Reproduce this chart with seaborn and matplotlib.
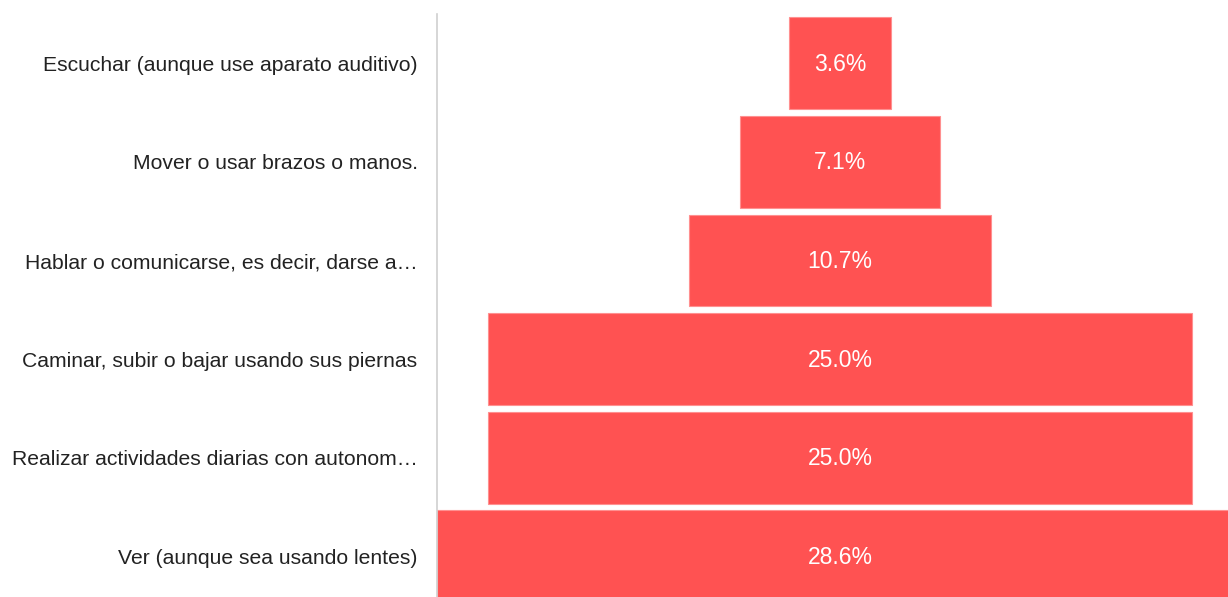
import matplotlib
matplotlib.use("Agg")
import matplotlib.pyplot as plt
import seaborn as sns
import pandas as pd

categories = [
    "Escuchar (aunque use aparato auditivo)",
    "Mover o usar brazos o manos.",
    "Hablar o comunicarse, es decir, darse a\u2026",
    "Caminar, subir o bajar usando sus piernas",
    "Realizar actividades diarias con autonom\u2026",
    "Ver (aunque sea usando lentes)",
]
values = [3.6, 7.1, 10.7, 25.0, 25.0, 28.6]

df = pd.DataFrame({"categoria": categories, "porcentaje": values})

sns.set_theme(style="white")
plt.rcParams["font.family"] = ["Liberation Sans", "DejaVu Sans"]

fig = plt.figure(figsize=(12.28, 5.97), dpi=100)
# axes: left edge at the grey axis line; the widest bar runs past the right edge
ax = fig.add_axes([437 / 1228, -8.6 / 597, 806 / 1228, (597 - 14 + 8.6) / 597])

sns.barplot(data=df, x="porcentaje", y="categoria", orient="h",
            color="#ff5252", saturation=1, width=0.93,
            edgecolor="#ff9090", linewidth=0.8, ax=ax)

# center each bar to get the funnel shape
vmax = max(values)
for patch, v in zip(ax.patches, values):
    patch.set_x((vmax - v) / 2)
    ax.text(vmax / 2, patch.get_y() + patch.get_height() / 2 + 0.01, f"{v:.1f}%",
            ha="center", va="center", color="white", fontsize=16.5)

ax.set_xlim(0, vmax)
ax.set_ylim(5.5, -0.5)
ax.set_xlabel("")
ax.set_ylabel("")
ax.set_xticks([])
ax.tick_params(axis="y", length=0, pad=14, labelsize=15.2, labelcolor="#222222")
for side in ["top", "right", "bottom"]:
    ax.spines[side].set_visible(False)
ax.spines["left"].set_color("#d0d0d0")
ax.spines["left"].set_linewidth(1.2)

fig.savefig("out.png", dpi=100)
